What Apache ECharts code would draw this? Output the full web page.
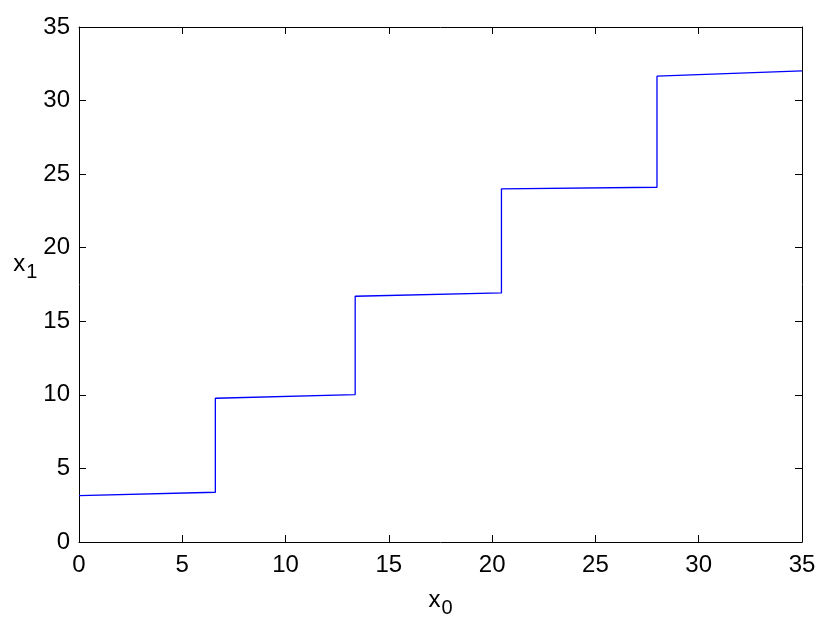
<!DOCTYPE html>
<html>
<head>
<meta charset="utf-8">
<script src="https://cdn.jsdelivr.net/npm/echarts@6/dist/echarts.min.js"></script>
<style>
  html, body { margin: 0; padding: 0; background: #fff; }
  #chart { width: 831px; height: 621px; }
</style>
</head>
<body>
<div id="chart"></div>
<script>
// step curve: x0 -> x1
const x0Values = [0, 6.6, 6.6, 13.37, 13.37, 20.45, 20.45, 27.98, 27.98, 35];
const x1Values = [3.15, 3.38, 9.77, 10.02, 16.7, 16.93, 24.0, 24.11, 31.66, 32.02];
const xTicks = [0, 5, 10, 15, 20, 25, 30, 35];
const yTicks = [0, 5, 10, 15, 20, 25, 30, 35];

const chart = echarts.init(document.getElementById('chart'));
const font = 'Liberation Sans, Arial, Helvetica, sans-serif';

const lineData = x0Values.map((x, i) => [x, x1Values[i]]);

const axisBase = {
  type: 'value',
  min: xTicks[0],
  max: xTicks[xTicks.length - 1],
  interval: 5,
  splitLine: { show: false },
  axisLine: { show: true, onZero: false, lineStyle: { color: '#000', width: 1 } },
  axisTick: { show: true, inside: true, length: 7, lineStyle: { color: '#000' } }
};

const nameRich = {
  a: { fontFamily: font, fontSize: 24, color: '#000' },
  b: { fontFamily: font, fontSize: 20, color: '#000', padding: [16, 0, 0, 1] }
};

chart.setOption({
  animation: false,
  backgroundColor: '#fff',
  grid: { left: 79, right: 29, top: 27, bottom: 79, outerBoundsMode: 'none', containLabel: false },
  xAxis: [
    Object.assign({}, axisBase, {
      position: 'bottom',
      name: '{a|x}{b|0}',
      nameLocation: 'middle',
      nameGap: 40,
      nameTextStyle: { rich: nameRich },
      axisLabel: { fontFamily: font, fontSize: 24, color: '#000', margin: 11 }
    }),
    Object.assign({}, axisBase, {
      position: 'top',
      axisLabel: { show: false }
    })
  ],
  yAxis: [
    Object.assign({}, axisBase, {
      min: yTicks[0],
      max: yTicks[yTicks.length - 1],
      position: 'left',
      name: '{a|x}{b|1}',
      nameLocation: 'middle',
      nameRotate: 0,
      nameGap: 33,
      nameTextStyle: { rich: nameRich, padding: [0, 0, 40, 0] },
      axisLabel: { fontFamily: font, fontSize: 24, color: '#000', margin: 9 }
    }),
    Object.assign({}, axisBase, {
      min: yTicks[0],
      max: yTicks[yTicks.length - 1],
      position: 'right',
      axisLabel: { show: false }
    })
  ],
  series: [{
    type: 'line',
    data: lineData,
    showSymbol: false,
    symbol: 'none',
    lineStyle: { color: '#0000ff', width: 1.3 }
  }]
});
</script>
</body>
</html>
